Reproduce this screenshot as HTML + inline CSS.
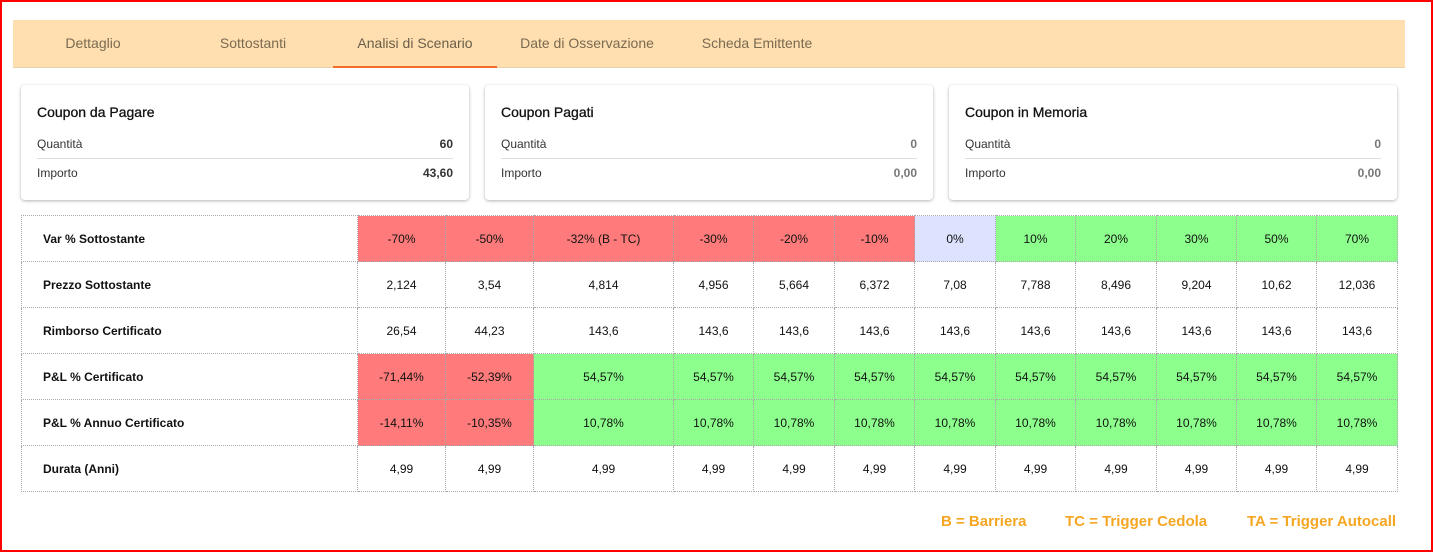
<!DOCTYPE html>
<html><head><meta charset="utf-8"><style>
*{box-sizing:border-box;margin:0;padding:0}
body{width:1433px;height:552px;background:#fff;font-family:"Liberation Sans",sans-serif;position:relative;overflow:hidden}
.frame{position:absolute;left:0;top:0;width:1433px;height:552px;border:2px solid #f00}
.tabs{position:absolute;left:13px;top:20px;width:1392px;height:48px;background:#ffdfb0;border-bottom:1px solid #e8d0a8}
.tab{position:absolute;top:0;height:48px;line-height:46px;font-size:14px;color:#7a6a50;text-align:center}
.tab.active{color:#6b5e48;border-bottom:2px solid #f26c2a}
.card{position:absolute;top:85px;width:448px;height:115px;background:#fff;border-radius:4px;box-shadow:0 1px 3px rgba(0,0,0,.3)}
.card h3{position:absolute;left:16px;top:19px;font-size:14px;font-weight:normal;color:#111;-webkit-text-stroke:0.3px #111}
.card .r{position:absolute;left:16px;right:16px;font-size:12px;color:#333;height:20px}
.card .r b{position:absolute;right:0;top:0}
.card .r.l1{top:52px;border-bottom:1px solid #ddd;height:22px}
.card .r.l2{top:81px}
.card.g .r b{color:#777}
table{position:absolute;left:21px;top:215px;border-collapse:collapse;font-size:12px;color:#111}
td{border:1px dotted #aaa;height:46px;text-align:center}
td.h{text-align:left;padding-left:21px;font-weight:bold}
.R{background:#ff7b7b}.G{background:#8cff8c}.B{background:#dde3ff}
.leg{position:absolute;top:513px;font-size:15px;color:#f5a623;font-weight:bold}
</style></head><body>
<div class="tabs">
<div class="tab" style="left:0px;width:160px">Dettaglio</div>
<div class="tab" style="left:160px;width:160px">Sottostanti</div>
<div class="tab active" style="left:320px;width:164px">Analisi di Scenario</div>
<div class="tab" style="left:494px;width:160px">Date di Osservazione</div>
<div class="tab" style="left:664px;width:160px">Scheda Emittente</div>
</div>
<div class="card" style="left:21px"><h3>Coupon da Pagare</h3>
<div class="r l1">Quantità<b>60</b></div><div class="r l2">Importo<b>43,60</b></div></div>
<div class="card g" style="left:485px"><h3>Coupon Pagati</h3>
<div class="r l1">Quantità<b>0</b></div><div class="r l2">Importo<b>0,00</b></div></div>
<div class="card g" style="left:949px"><h3>Coupon in Memoria</h3>
<div class="r l1">Quantità<b>0</b></div><div class="r l2">Importo<b>0,00</b></div></div>
<table>
<colgroup><col style="width:336px"><col style="width:88px"><col style="width:88px"><col style="width:140px"><col style="width:80px"><col style="width:81px"><col style="width:80px"><col style="width:81px"><col style="width:80px"><col style="width:81px"><col style="width:80px"><col style="width:80px"><col style="width:81px"></colgroup>
<tr><td class="h">Var % Sottostante</td><td class="R">-70%</td><td class="R">-50%</td><td class="R">-32% (B - TC)</td><td class="R">-30%</td><td class="R">-20%</td><td class="R">-10%</td><td class="B">0%</td><td class="G">10%</td><td class="G">20%</td><td class="G">30%</td><td class="G">50%</td><td class="G">70%</td></tr>
<tr><td class="h">Prezzo Sottostante</td><td>2,124</td><td>3,54</td><td>4,814</td><td>4,956</td><td>5,664</td><td>6,372</td><td>7,08</td><td>7,788</td><td>8,496</td><td>9,204</td><td>10,62</td><td>12,036</td></tr>
<tr><td class="h">Rimborso Certificato</td><td>26,54</td><td>44,23</td><td>143,6</td><td>143,6</td><td>143,6</td><td>143,6</td><td>143,6</td><td>143,6</td><td>143,6</td><td>143,6</td><td>143,6</td><td>143,6</td></tr>
<tr><td class="h">P&amp;L % Certificato</td><td class="R">-71,44%</td><td class="R">-52,39%</td><td class="G">54,57%</td><td class="G">54,57%</td><td class="G">54,57%</td><td class="G">54,57%</td><td class="G">54,57%</td><td class="G">54,57%</td><td class="G">54,57%</td><td class="G">54,57%</td><td class="G">54,57%</td><td class="G">54,57%</td></tr>
<tr><td class="h">P&amp;L % Annuo Certificato</td><td class="R">-14,11%</td><td class="R">-10,35%</td><td class="G">10,78%</td><td class="G">10,78%</td><td class="G">10,78%</td><td class="G">10,78%</td><td class="G">10,78%</td><td class="G">10,78%</td><td class="G">10,78%</td><td class="G">10,78%</td><td class="G">10,78%</td><td class="G">10,78%</td></tr>
<tr><td class="h">Durata (Anni)</td><td>4,99</td><td>4,99</td><td>4,99</td><td>4,99</td><td>4,99</td><td>4,99</td><td>4,99</td><td>4,99</td><td>4,99</td><td>4,99</td><td>4,99</td><td>4,99</td></tr>
</table>
<div class="leg" style="left:941px">B = Barriera</div>
<div class="leg" style="left:1065px">TC = Trigger Cedola</div>
<div class="leg" style="left:1247px">TA = Trigger Autocall</div>
<div class="frame"></div>
</body></html>
